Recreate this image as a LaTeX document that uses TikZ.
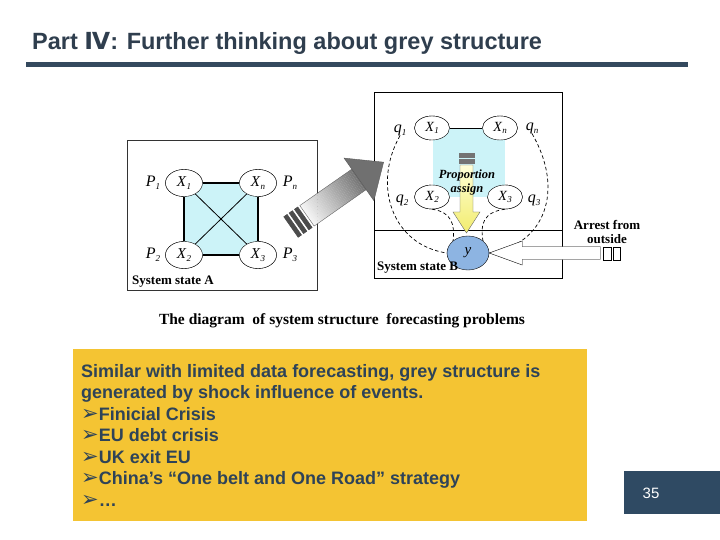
\documentclass[tikz,border=0pt]{standalone}
\usepackage{fontspec}
\setmainfont{Liberation Sans}
\newfontfamily\serifface{Liberation Serif}
\newfontfamily\symface{DejaVu Sans}
\usetikzlibrary{shapes.geometric,positioning,calc}
\definecolor{titleInk}{HTML}{2F3E4E}
\definecolor{barInk}{HTML}{34495E}
\definecolor{noteFill}{HTML}{F4C433}
\definecolor{noteInk}{HTML}{2E4358}
\definecolor{pageFill}{HTML}{2F4A63}
\definecolor{sqCyan}{HTML}{CCF3F8}
\definecolor{yFill}{HTML}{8DB4E2}
\definecolor{arrYelTop}{HTML}{FFFFD8}
\definecolor{arrYelBot}{HTML}{F2EC6E}
\newcommand{\sx}[2]{\textit{#1}\raisebox{-0.4ex}{\fontsize{9}{9}\selectfont\textit{#2}}}
\newcommand{\bul}{{\symface\fontsize{21}{17}\selectfont ➢}}
\tikzset{
  stateA/.style={ellipse,draw,fill=white,minimum width=37pt,minimum height=27pt,inner sep=0pt,
    font=\serifface\fontsize{15}{15}\selectfont},
  stateB/.style={stateA,minimum width=35pt,minimum height=24pt,font=\serifface\fontsize{14}{14}\selectfont},
  weight/.style={font=\serifface\fontsize{16}{16}\selectfont,inner sep=0pt},
  boxlabel/.style={font=\serifface\bfseries\fontsize{13}{14}\selectfont,inner sep=0pt,align=center},
  dashline/.style={dash pattern=on 3.5pt off 2.5pt,line width=0.7pt},
}
\begin{document}
\begin{tikzpicture}[x=1pt,y=-1pt]
  \useasboundingbox (0,0) rectangle (720,540);
  \fill[white] (0,0) rectangle (720,540);
  % heading
  \node[anchor=base west,inner sep=0pt,text=titleInk,font=\bfseries\fontsize{23.5}{24}\selectfont] (title) at (32,50)
    {Part {\symface\bfseries Ⅳ}: Further thinking about grey structure};
  \fill[barInk] (26,62) rectangle (688,67);

  % system state A
  \draw[black!80] (127,140) rectangle (317,290);
  \node[stateA] (a1) at (184,183) {\sx{X}{1}};
  \node[stateA] (an) at (258,183) {\sx{X}{n}};
  \node[stateA] (a2) at (184,255) {\sx{X}{2}};
  \node[stateA] (a3) at (258,255) {\sx{X}{3}};
  \fill[sqCyan] (a1.center) rectangle (a3.center);
  \draw[line width=2pt] (a1) -- (an);
  \draw[line width=2pt] (an) -- (a3);
  \draw[line width=2pt] (a3) -- (a2);
  \draw[line width=2pt] (a2) -- (a1);
  \draw[line width=0.8pt] (a1) -- (a3);
  \draw[line width=0.8pt] (an) -- (a2);
  \node[stateA] at (a1) {\sx{X}{1}};
  \node[stateA] at (an) {\sx{X}{n}};
  \node[stateA] at (a2) {\sx{X}{2}};
  \node[stateA] at (a3) {\sx{X}{3}};
  \node[weight] (p1) at (153,183) {\sx{P}{1}};
  \node[weight] (pn) at (290,183) {\sx{P}{n}};
  \node[weight] (p2) at (153,255) {\sx{P}{2}};
  \node[weight] (p3) at (290,255) {\sx{P}{3}};
  \node[boxlabel,anchor=west] (labA) at (132,282) {System state A};

  % system state B
  \draw (374,92) rectangle (562,278);
  \draw (374,230) -- (562,230);
  \node[stateB] (b1) at (432,128) {\sx{X}{1}};
  \node[stateB] (bn) at (500,128) {\sx{X}{n}};
  \node[stateB] (b2) at (432,197) {\sx{X}{2}};
  \node[stateB] (b3) at (505,197) {\sx{X}{3}};
  \fill[sqCyan] (b1.center) rectangle (b3.center);
  \draw (b1) -- (bn);
  \draw[double,double distance=1.2pt] (b1) -- (b2);
  \node[stateB] at (b1) {\sx{X}{1}};
  \node[stateB] at (bn) {\sx{X}{n}};
  \node[stateB] at (b2) {\sx{X}{2}};
  \node[stateB] at (b3) {\sx{X}{3}};
  \node[weight] (q1) at (400,130) {\sx{q}{1}};
  \node[weight] (qn) at (532,128) {\sx{q}{n}};
  \node[weight] (q2) at (402,200) {\sx{q}{2}};
  \node[weight] (q3) at (534,200) {\sx{q}{3}};
  % yellow assign arrow
  \draw[fill=white,black!55,line width=0.5pt] (459,153) rectangle (474,157);
  \draw[fill=white,black!55,line width=0.5pt] (459,159) rectangle (474,163);
  \shade[top color=arrYelTop,bottom color=arrYelBot,draw=black!60]
    (460,165) -- (473,165) -- (473,212) -- (480,212) -- (466.5,233) -- (453,212) -- (460,212) -- cycle;
  \node[font=\serifface\bfseries\itshape\fontsize{12.5}{14}\selectfont,align=center,inner sep=0pt] (prop) at (467,182)
    {Proportion\\assign};
  \node[ellipse,draw,fill=yFill,minimum width=42pt,minimum height=34pt,inner sep=0pt,
    font=\serifface\itshape\fontsize{15}{15}\selectfont] (yb) at (468,253) {y};
  \draw[dashline] (q1.south) .. controls (372,185) and (392,245) .. (yb.west);
  \draw[dashline] (qn.south) .. controls (565,190) and (545,245) .. (yb.east);
  \draw[dashline] (b2.south) .. controls (452,212) and (455,225) .. (yb.north west);
  \draw[dashline] (b3.south) .. controls (483,212) and (480,225) .. (yb.north east);
  % arrest from outside
  \coordinate (tipout) at (yb.east);
  \draw[fill=white] (tipout) -- ++(33,-12) -- ++(0,5.5) -- ++(78,0) -- ++(0,13) -- ++(-78,0) -- ++(0,5.5) -- cycle;
  \draw (603,247.5) rectangle (611,260.5);
  \draw (613,247.5) rectangle (620,260.5);
  \node[boxlabel] (arrest) at (607,232) {Arrest from\\outside};
  \node[boxlabel,anchor=west] (labB) at (377,268) {System state B};

  % grey transfer arrow
  \begin{scope}[shift={(291,227)},rotate=35]
    \foreach \s in {0,6.5,13} \draw[fill=white,black!70,line width=0.6pt] (\s,-12.5) rectangle ++(4,25);
    \foreach \i in {0,...,31} {
      \pgfmathsetmacro\tone{4+\i*1.6}
      \fill[black!\tone] (19.5+\i*2,-12.5) rectangle ++(2.1,25);
    }
    \draw[black!60] (19.5,-12.5) -- (83,-12.5);
    \draw[black!60] (19.5,12.5) -- (83,12.5);
    \draw[black!60] (19.5,-12.5) -- (19.5,12.5);
    \draw[fill=black!56,draw=black!65] (83,-26) -- (113,0) -- (83,26) -- cycle;
  \end{scope}

  \node[font=\serifface\bfseries\fontsize{15.5}{15.5}\selectfont,inner sep=0pt] (caption) at (342,321)
    {The diagram\ \ of system structure\ \ forecasting problems};

  % note box
  \fill[noteFill] (73,349) rectangle (587,521);
  \coordinate (notecorner) at (73,349);
  \node[anchor=north west,inner sep=0pt,align=left,text=noteInk,
    font=\bfseries\fontsize{18}{21.5}\selectfont] (notetext) at ($(notecorner)+(8,15)$)
    {Similar with limited data forecasting, grey structure is\\
     generated by shock influence of events.\\
     \bul Finicial Crisis\\
     \bul EU debt crisis\\
     \bul UK exit EU\\
     \bul China’s “One belt and One Road” strategy\\
     \bul …};

  % page number
  \fill[pageFill] (624,471) rectangle (720,514);
  \node[text=white,font=\fontsize{15}{15}\selectfont,inner sep=0pt] (pagenum) at (651,493) {35};
\end{tikzpicture}
\end{document}
